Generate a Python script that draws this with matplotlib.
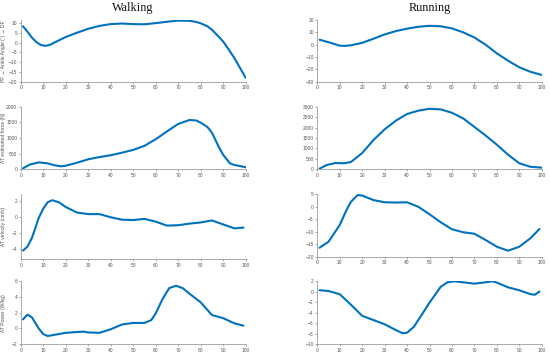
import matplotlib
matplotlib.use("Agg")
import matplotlib.pyplot as plt

# ---------------- data ----------------
walk_angle_x = [1, 3, 5, 7, 9, 11, 13, 15, 20, 25, 30, 35, 40, 45, 50, 55, 60, 65, 70, 75, 78, 80, 83, 85, 88, 90, 93, 95, 97, 100]
walk_angle_y = [8.3, 5.5, 2.5, 0.2, -1.3, -1.7, -1.2, 0.0, 2.8, 5.0, 7.0, 8.5, 9.4, 9.7, 9.4, 9.3, 9.9, 10.6, 11.2, 11.1, 10.5, 9.8, 8.3, 6.5, 3.0, 0.5, -4.5, -8.0, -12.0, -18.0]

run_angle_x = [1, 5, 10, 12, 15, 20, 25, 30, 35, 40, 45, 50, 55, 60, 65, 70, 75, 80, 85, 90, 95, 100]
run_angle_y = [4.0, 2.0, -0.8, -1.0, -0.5, 1.5, 4.8, 8.3, 11.0, 13.0, 14.5, 15.3, 14.9, 13.2, 10.0, 5.8, 0.0, -7.0, -13.0, -18.3, -22.0, -24.5]

walk_force_x = [1, 4, 8, 12, 15, 18, 20, 25, 30, 35, 40, 45, 50, 55, 60, 65, 70, 75, 78, 80, 83, 85, 88, 90, 93, 95, 100]
walk_force_y = [30, 150, 220, 190, 130, 95, 115, 210, 320, 390, 450, 530, 620, 750, 960, 1210, 1450, 1575, 1560, 1490, 1350, 1170, 720, 460, 190, 140, 65]

run_force_x = [1, 4, 8, 12, 15, 20, 25, 30, 35, 40, 45, 50, 55, 60, 65, 70, 75, 80, 85, 90, 95, 100]
run_force_y = [30, 200, 300, 290, 350, 780, 1400, 1915, 2330, 2650, 2810, 2900, 2870, 2710, 2440, 2030, 1620, 1180, 700, 290, 120, 80]

walk_vel_x = [1, 3, 5, 8, 10, 12, 14, 17, 20, 25, 30, 35, 40, 45, 50, 55, 60, 65, 70, 75, 80, 85, 90, 95, 99]
walk_vel_y = [-4.2, -3.7, -2.6, -0.1, 1.1, 1.9, 2.15, 1.9, 1.3, 0.6, 0.4, 0.4, 0.0, -0.3, -0.35, -0.2, -0.55, -1.05, -1.0, -0.8, -0.65, -0.4, -0.9, -1.4, -1.3]

run_vel_x = [1, 5, 10, 13, 15, 18, 20, 25, 30, 35, 40, 45, 50, 55, 60, 65, 70, 75, 80, 85, 90, 95, 99]
run_vel_y = [-16.4, -14.0, -7.3, -1.3, 2.0, 4.7, 4.5, 2.7, 1.8, 1.7, 1.8, 0.0, -3.0, -6.2, -9.0, -10.2, -10.8, -13.3, -16.0, -17.6, -16.0, -12.6, -8.9]

walk_pow_x = [1, 3, 5, 8, 10, 12, 15, 20, 25, 28, 30, 35, 40, 45, 50, 55, 58, 60, 63, 66, 69, 72, 75, 80, 85, 90, 95, 99]
walk_pow_y = [1.15, 1.75, 1.4, 0.0, -0.7, -0.95, -0.8, -0.55, -0.45, -0.4, -0.5, -0.55, -0.1, 0.5, 0.7, 0.7, 1.05, 1.9, 3.7, 5.1, 5.4, 5.1, 4.4, 3.3, 1.7, 1.3, 0.65, 0.35]

run_pow_x = [1, 5, 10, 15, 20, 25, 30, 35, 38, 40, 43, 47, 50, 55, 58, 61, 65, 70, 75, 78, 80, 85, 90, 95, 97, 99]
run_pow_y = [0.25, 0.1, -0.5, -2.5, -4.6, -5.4, -6.2, -7.3, -7.9, -7.8, -6.7, -4.1, -2.1, 0.9, 1.75, 1.95, 1.75, 1.5, 1.75, 1.95, 1.7, 0.8, 0.25, -0.5, -0.6, 0.0]

titles = ["Walking", "Running"]
ylabels = ["PF \u2190 Ankle Angle (\u00b0) \u2192 DF", "AT estimated force (N)", "AT velocity (cm/s)", "AT Power (W/kg)"]
xticks = [0, 10, 20, 30, 40, 50, 60, 70, 80, 90, 100]

left_series = [(walk_angle_x, walk_angle_y), (walk_force_x, walk_force_y), (walk_vel_x, walk_vel_y), (walk_pow_x, walk_pow_y)]
right_series = [(run_angle_x, run_angle_y), (run_force_x, run_force_y), (run_vel_x, run_vel_y), (run_pow_x, run_pow_y)]

left_ylims = [(-20, 11.5), (0, 2000), (-5.3, 2.9), (-2, 6)]
left_yticks = [[-20, -15, -10, -5, 0, 5, 10], [0, 500, 1000, 1500, 2000], [-4, -2, 0, 2], [-2, 0, 2, 4, 6]]
right_ylims = [(-30, 20), (0, 3000), (-20, 5), (-10, 2)]
right_yticks = [[-30, -20, -10, 0, 10, 20], [0, 500, 1000, 1500, 2000, 2500, 3000], [-20, -15, -10, -5, 0, 5], [-10, -8, -6, -4, -2, 0, 2]]

# ---------------- layout ----------------
W, H = 550, 354
fig = plt.figure(figsize=(W / 100, H / 100), dpi=100)
line_color = "#0072BD"
tick_color = "#555555"
small_font = ["Liberation Sans", "DejaVu Sans"]

rows_px = [(20.0, 81.7), (106.7, 169.3), (194.3, 259.3), (281.0, 344.3)]
right_rows_px = [(20.0, 81.7), (106.7, 169.3), (194.3, 256.7), (281.0, 344.3)]
left_x_px = (20.7, 245.7)
right_x_px = (317.3, 541.7)


def make_ax(xpx, ypx):
    x0, x1 = xpx
    t, b = ypx
    return fig.add_axes([x0 / W, 1 - b / H, (x1 - x0) / W, (b - t) / H])


def style(ax):
    for s in ["top", "right"]:
        ax.spines[s].set_visible(False)
    for s in ["left", "bottom"]:
        ax.spines[s].set_color("#888888")
        ax.spines[s].set_linewidth(0.5)
    ax.tick_params(direction="out", length=1.5, width=0.5, colors="#888888",
                   labelsize=3.5, labelcolor=tick_color, pad=1.0)
    ax.set_xlim(0, 100)
    ax.set_xticks(xticks)
    ax.set_facecolor("none")
    for lab in ax.get_xticklabels() + ax.get_yticklabels():
        lab.set_family(small_font)


for i in range(4):
    axl = make_ax(left_x_px, rows_px[i])
    xs, ys = left_series[i]
    axl.plot(xs, ys, color=line_color, lw=1.5, solid_capstyle="round", solid_joinstyle="round")
    axl.set_ylim(*left_ylims[i])
    axl.set_yticks(left_yticks[i])
    style(axl)
    axl.set_ylabel(ylabels[i], fontsize=3.6, color=tick_color, family=small_font)
    axl.yaxis.set_label_coords(-14.5 / 225.0, 0.5)

    axr = make_ax(right_x_px, right_rows_px[i])
    xs, ys = right_series[i]
    axr.plot(xs, ys, color=line_color, lw=1.5, solid_capstyle="round", solid_joinstyle="round")
    axr.set_ylim(*right_ylims[i])
    axr.set_yticks(right_yticks[i])
    style(axr)

    if i == 0:
        axl.set_title(titles[0], fontsize=8.8, family="Liberation Serif", color="#111111", pad=6.5)
        axr.set_title(titles[1], fontsize=8.8, family="Liberation Serif", color="#111111", pad=6.5)

fig.savefig("out.png", dpi=100)
